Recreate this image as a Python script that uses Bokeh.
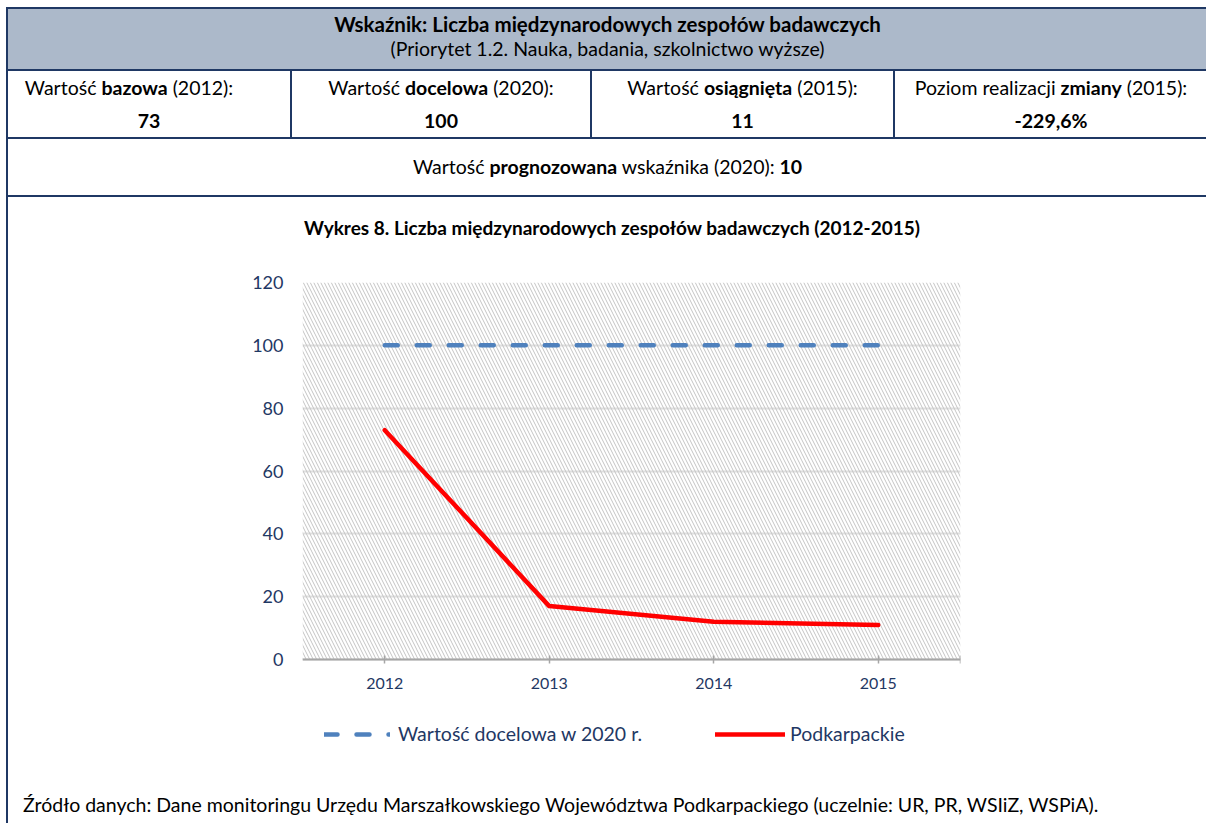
from bokeh.plotting import figure
from bokeh.models import Div, Range1d, FixedTicker, BoxAnnotation, Legend, LegendItem
from bokeh.layouts import column, row
from bokeh.embed import file_html
from bokeh.resources import INLINE

# ---- data ----
years = [2012, 2013, 2014, 2015]
podkarpackie = [73, 17, 12, 11]
target_2020 = [100, 100, 100, 100]
y_ticks = [0, 20, 40, 60, 80, 100, 120]

indicator_label = "Wskaźnik: Liczba międzynarodowych zespołów badawczych"
priority_label = "(Priorytet 1.2. Nauka, badania, szkolnictwo wyższe)"
base_value = "73"
target_value = "100"
achieved_value = "11"
change_level = "-229,6%"
forecast_value = "10"
chart_title = "Wykres 8. Liczba międzynarodowych zespołów badawczych (2012-2015)"
legend_labels = ["Wartość docelowa w 2020 r.", "Podkarpackie"]
source_text = ("Źródło danych: Dane monitoringu Urzędu Marszałkowskiego Województwa "
               "Podkarpackiego (uczelnie: UR, PR, WSIiZ, WSPiA).")

FONT = "Lato"
NAVY = "#1f3864"
TXT = "#1f3864"
FS = "19.5px"

# ---- table (HTML) ----
bd = f"2px solid {NAVY}"
cell = f"border:{bd};text-align:center;vertical-align:middle;padding:0;line-height:33px;"
table_html = f"""
<table style="border-collapse:collapse;table-layout:fixed;width:1200px;font-family:{FONT};font-size:{FS};color:#000;">
<colgroup><col style="width:284px"><col style="width:300px"><col style="width:303px"><col style="width:313px"></colgroup>
<tr style="height:62px;background:#acb9ca;">
<td colspan="4" style="border:{bd};border-right:none;text-align:center;line-height:24px;padding:0 0 6px 0;">
<b style="font-size:20.5px;">{indicator_label}</b><br>{priority_label}</td></tr>
<tr style="height:68px;">
<td style="{cell}"><span style="display:inline-block;padding-right:40px;">Wartość <b>bazowa</b> (2012):</span><br><b>{base_value}</b></td>
<td style="{cell}">Wartość <b>docelowa</b> (2020):<br><b>{target_value}</b></td>
<td style="{cell}">Wartość <b>osiągnięta</b> (2015):<br><b>{achieved_value}</b></td>
<td style="{cell}border-right:none;">Poziom realizacji <b>zmiany</b> (2015):<br><b>{change_level}</b></td>
</tr>
<tr style="height:58px;">
<td colspan="4" style="border:{bd};border-right:none;text-align:center;padding:0;">
Wartość <b>prognozowana</b> wskaźnika (2020): <b>{forecast_value}</b></td></tr>
</table>
"""
table_div = Div(text=table_html, width=1200, height=189, margin=0)

title_div = Div(
    text=f'<div style="width:1198px;text-align:center;font-family:{FONT};font-size:19px;'
         f'font-weight:bold;color:#000;padding:18px 0 0 10px;box-sizing:border-box;">{chart_title}</div>',
    width=1198, height=54, margin=0)

# ---- chart ----
# frame: 463 px tall, 3.1417 px per unit so that 0..120 spans the plot area;
# the lower part of the frame carries the x axis (fixed at 0) and the legend
p = figure(width=1198, height=535, x_range=Range1d(2011.5, 2015.5), y_range=Range1d(-27.37, 120),
           output_backend="svg", toolbar_location=None, margin=0,
           min_border_left=294, min_border_right=246, min_border_top=32, min_border_bottom=40)
p.outline_line_color = None
p.background_fill_color = "white"
p.border_fill_color = "white"

hatch = BoxAnnotation(bottom=0, top=120, fill_alpha=0, line_alpha=0,
                      hatch_pattern="left_diagonal_line",
                      hatch_color="#c4c4c4", hatch_scale=7, hatch_weight=1, level="underlay")
p.add_layout(hatch)

p.xgrid.visible = False
p.ygrid.grid_line_color = "#e0e0e0"
p.ygrid.grid_line_width = 2
p.ygrid.ticker = FixedTicker(ticks=y_ticks)

xa = p.xaxis[0]
xa.fixed_location = 0
xa.ticker = FixedTicker(ticks=years, minor_ticks=[2015.5])
xa.axis_line_color = "#a6a6a6"
xa.axis_line_width = 2
xa.major_tick_in = 4
xa.major_tick_out = 4
xa.minor_tick_in = 4
xa.minor_tick_out = 4
xa.major_tick_line_color = "#a6a6a6"
xa.minor_tick_line_color = "#a6a6a6"
xa.major_tick_line_width = 1.5
xa.minor_tick_line_width = 1.5
xa.major_label_text_font = FONT
xa.major_label_text_font_size = "16px"
xa.major_label_text_color = TXT
xa.major_label_standoff = 14

ya = p.yaxis[0]
ya.ticker = FixedTicker(ticks=y_ticks)
ya.axis_line_color = None
ya.major_tick_line_color = None
ya.minor_tick_line_color = None
ya.major_tick_in = 0
ya.major_tick_out = 0
ya.major_label_text_font = FONT
ya.major_label_text_font_size = "18px"
ya.major_label_text_color = TXT
ya.major_label_standoff = 19

r_target = p.line(years, target_2020, line_color="#4f81bd", line_width=4.5,
                  line_dash="13 19", line_cap="round")
r_pk = p.line(years, podkarpackie, line_color="#ff0000", line_width=4.5,
              line_join="round", line_cap="round")

def mk_legend(item, loc, gw, standoff):
    return Legend(items=[item], location=loc, orientation="horizontal",
                  glyph_width=gw, glyph_height=20, label_height=20, label_standoff=standoff,
                  padding=0, margin=0, spacing=0, border_line_color=None,
                  background_fill_alpha=0, label_text_font=FONT,
                  label_text_font_size=FS, label_text_color=TXT)

p.add_layout(mk_legend(LegendItem(label=legend_labels[0], renderers=[r_target]), (22, 0), 66, 8))
p.add_layout(mk_legend(LegendItem(label=legend_labels[1], renderers=[r_pk]), (413, 0), 70, 5))

source_div = Div(
    text=f'<div style="font-family:{FONT};font-size:{FS};color:#000;padding:6px 0 0 15px;white-space:nowrap;">{source_text}</div>',
    width=1198, height=38, margin=0)

border_div = Div(text="", width=2, height=627, margin=0, styles={"background-color": NAVY})

layout = column(table_div, row(border_div, column(title_div, p, source_div, margin=0), margin=0),
                margin=(7, 0, 0, 6))

open("out.html", "w").write(file_html(layout, INLINE))
